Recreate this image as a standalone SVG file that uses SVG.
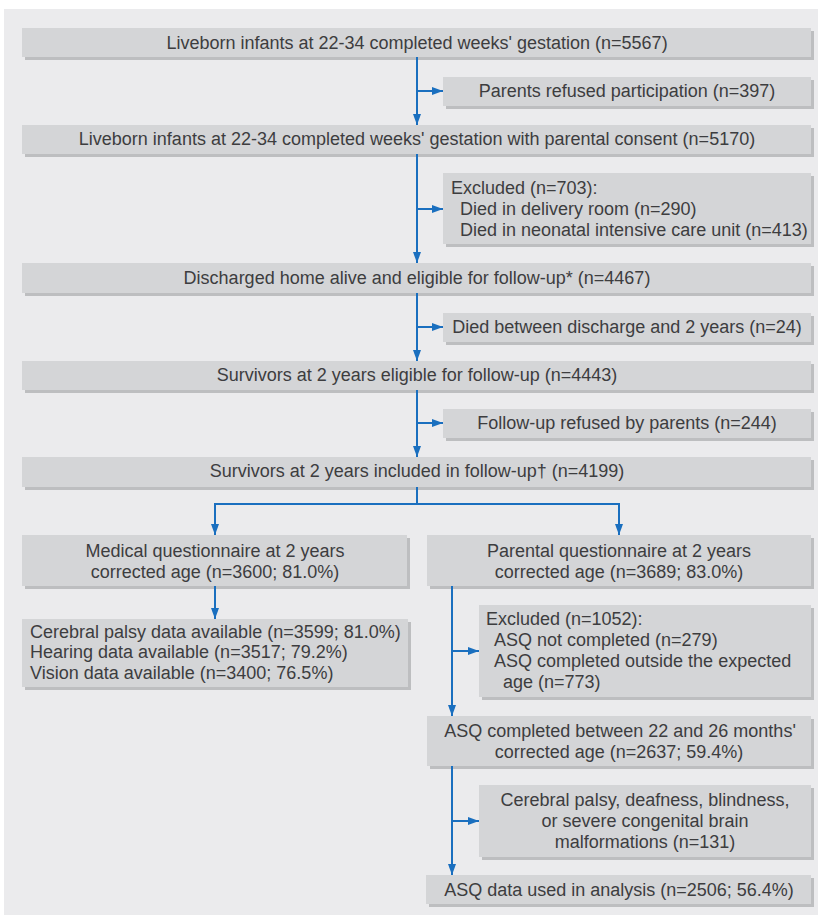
<svg xmlns="http://www.w3.org/2000/svg" width="818" height="915" viewBox="0 0 818 915">
<style>
.bg{fill:#ebebed}
.sh{fill:#bdbec0}
.bx{fill:#d4d5d7}
text{font-family:"Liberation Sans",Arial,sans-serif;font-size:18px;fill:#3d3d3f}
.c{text-anchor:middle}
.ln{fill:none;stroke:#1a6fbf;stroke-width:2}
</style>
<defs>
<marker id="ah" viewBox="0 0 11 8" refX="11" refY="4" markerWidth="11" markerHeight="8" markerUnits="userSpaceOnUse" orient="auto">
<path d="M0,0 L11,4 L0,8 z" fill="#1a6fbf"/>
</marker>
</defs>
<rect class="bg" x="4" y="9" width="814" height="906"/>

<g id="n1"><rect class="sh" x="25" y="31" width="789" height="29"/><rect class="bx" x="22" y="28" width="789" height="29"/>
<text class="c" x="417" y="49">Liveborn infants at 22-34 completed weeks' gestation (n=5567)</text></g>
<g id="n2"><rect class="sh" x="446" y="80" width="368" height="29"/><rect class="bx" x="443" y="77" width="368" height="29"/>
<text class="c" x="627" y="97">Parents refused participation (n=397)</text></g>
<g id="n3"><rect class="sh" x="25" y="128" width="789" height="29"/><rect class="bx" x="22" y="125" width="789" height="29"/>
<text class="c" x="417" y="145">Liveborn infants at 22-34 completed weeks' gestation with parental consent (n=5170)</text></g>
<g id="n4"><rect class="sh" x="446" y="176" width="368" height="71"/><rect class="bx" x="443" y="173" width="368" height="71"/>
<text x="451" y="194">Excluded (n=703):</text>
<text x="460" y="215">Died in delivery room (n=290)</text>
<text x="460" y="236">Died in neonatal intensive care unit (n=413)</text></g>
<g id="n5"><rect class="sh" x="25" y="266" width="789" height="30"/><rect class="bx" x="22" y="263" width="789" height="30"/>
<text class="c" x="417" y="284">Discharged home alive and eligible for follow-up* (n=4467)</text></g>
<g id="n6"><rect class="sh" x="446" y="316" width="368" height="29"/><rect class="bx" x="443" y="313" width="368" height="29"/>
<text class="c" x="627" y="333">Died between discharge and 2 years (n=24)</text></g>
<g id="n7"><rect class="sh" x="25" y="364" width="789" height="29"/><rect class="bx" x="22" y="361" width="789" height="29"/>
<text class="c" x="417" y="381">Survivors at 2 years eligible for follow-up (n=4443)</text></g>
<g id="n8"><rect class="sh" x="446" y="412" width="368" height="29"/><rect class="bx" x="443" y="409" width="368" height="29"/>
<text class="c" x="627" y="429">Follow-up refused by parents (n=244)</text></g>
<g id="n9"><rect class="sh" x="25" y="460" width="789" height="30"/><rect class="bx" x="22" y="457" width="789" height="30"/>
<text class="c" x="417" y="477">Survivors at 2 years included in follow-up† (n=4199)</text></g>
<g id="n10"><rect class="sh" x="25" y="538" width="385" height="51"/><rect class="bx" x="22" y="535" width="385" height="51"/>
<text class="c" x="215" y="557">Medical questionnaire at 2 years</text>
<text class="c" x="215" y="578">corrected age (n=3600; 81.0%)</text></g>
<g id="n11"><rect class="sh" x="430" y="538" width="384" height="51"/><rect class="bx" x="427" y="535" width="384" height="51"/>
<text class="c" x="619" y="557">Parental questionnaire at 2 years</text>
<text class="c" x="619" y="578">corrected age (n=3689; 83.0%)</text></g>
<g id="n12"><rect class="sh" x="25" y="622" width="386" height="68"/><rect class="bx" x="22" y="619" width="386" height="68"/>
<text x="30" y="638">Cerebral palsy data available (n=3599; 81.0%)</text>
<text x="30" y="658">Hearing data available (n=3517; 79.2%)</text>
<text x="30" y="679">Vision data available (n=3400; 76.5%)</text></g>
<g id="n13"><rect class="sh" x="482" y="608" width="332" height="92"/><rect class="bx" x="479" y="605" width="332" height="92"/>
<text x="486" y="625">Excluded (n=1052):</text>
<text x="494" y="646">ASQ not completed (n=279)</text>
<text x="494" y="667">ASQ completed outside the expected</text>
<text x="503" y="688">age (n=773)</text></g>
<g id="n14"><rect class="sh" x="430" y="719" width="384" height="50"/><rect class="bx" x="427" y="716" width="384" height="50"/>
<text class="c" x="620" y="737">ASQ completed between 22 and 26 months'</text>
<text class="c" x="619" y="758">corrected age (n=2637; 59.4%)</text></g>
<g id="n15"><rect class="sh" x="482" y="788" width="332" height="72"/><rect class="bx" x="479" y="785" width="332" height="72"/>
<text class="c" x="645" y="806">Cerebral palsy, deafness, blindness,</text>
<text class="c" x="645" y="827">or severe congenital brain</text>
<text class="c" x="645" y="848">malformations (n=131)</text></g>
<g id="n16"><rect class="sh" x="429" y="878" width="385" height="29"/><rect class="bx" x="426" y="875" width="385" height="29"/>
<text class="c" x="619" y="896">ASQ data used in analysis (n=2506; 56.4%)</text></g>

<g id="connectors">
<path class="ln" d="M417,57 V125" marker-end="url(#ah)"/>
<path class="ln" d="M417,91 H443" marker-end="url(#ah)"/>
<path class="ln" d="M417,154 V263" marker-end="url(#ah)"/>
<path class="ln" d="M417,209 H443" marker-end="url(#ah)"/>
<path class="ln" d="M417,293 V361" marker-end="url(#ah)"/>
<path class="ln" d="M417,327 H443" marker-end="url(#ah)"/>
<path class="ln" d="M417,390 V457" marker-end="url(#ah)"/>
<path class="ln" d="M417,423 H443" marker-end="url(#ah)"/>
<path class="ln" d="M417,487 V504"/>
<path class="ln" d="M215,535 V504 H619 V535" marker-end="url(#ah)"/>
<path class="ln" d="M215,504 V535" marker-end="url(#ah)"/>
<path class="ln" d="M215,586 V619" marker-end="url(#ah)"/>
<path class="ln" d="M452,586 V716" marker-end="url(#ah)"/>
<path class="ln" d="M452,651 H479" marker-end="url(#ah)"/>
<path class="ln" d="M452,766 V875" marker-end="url(#ah)"/>
<path class="ln" d="M452,821 H479" marker-end="url(#ah)"/>
</g>
</svg>
